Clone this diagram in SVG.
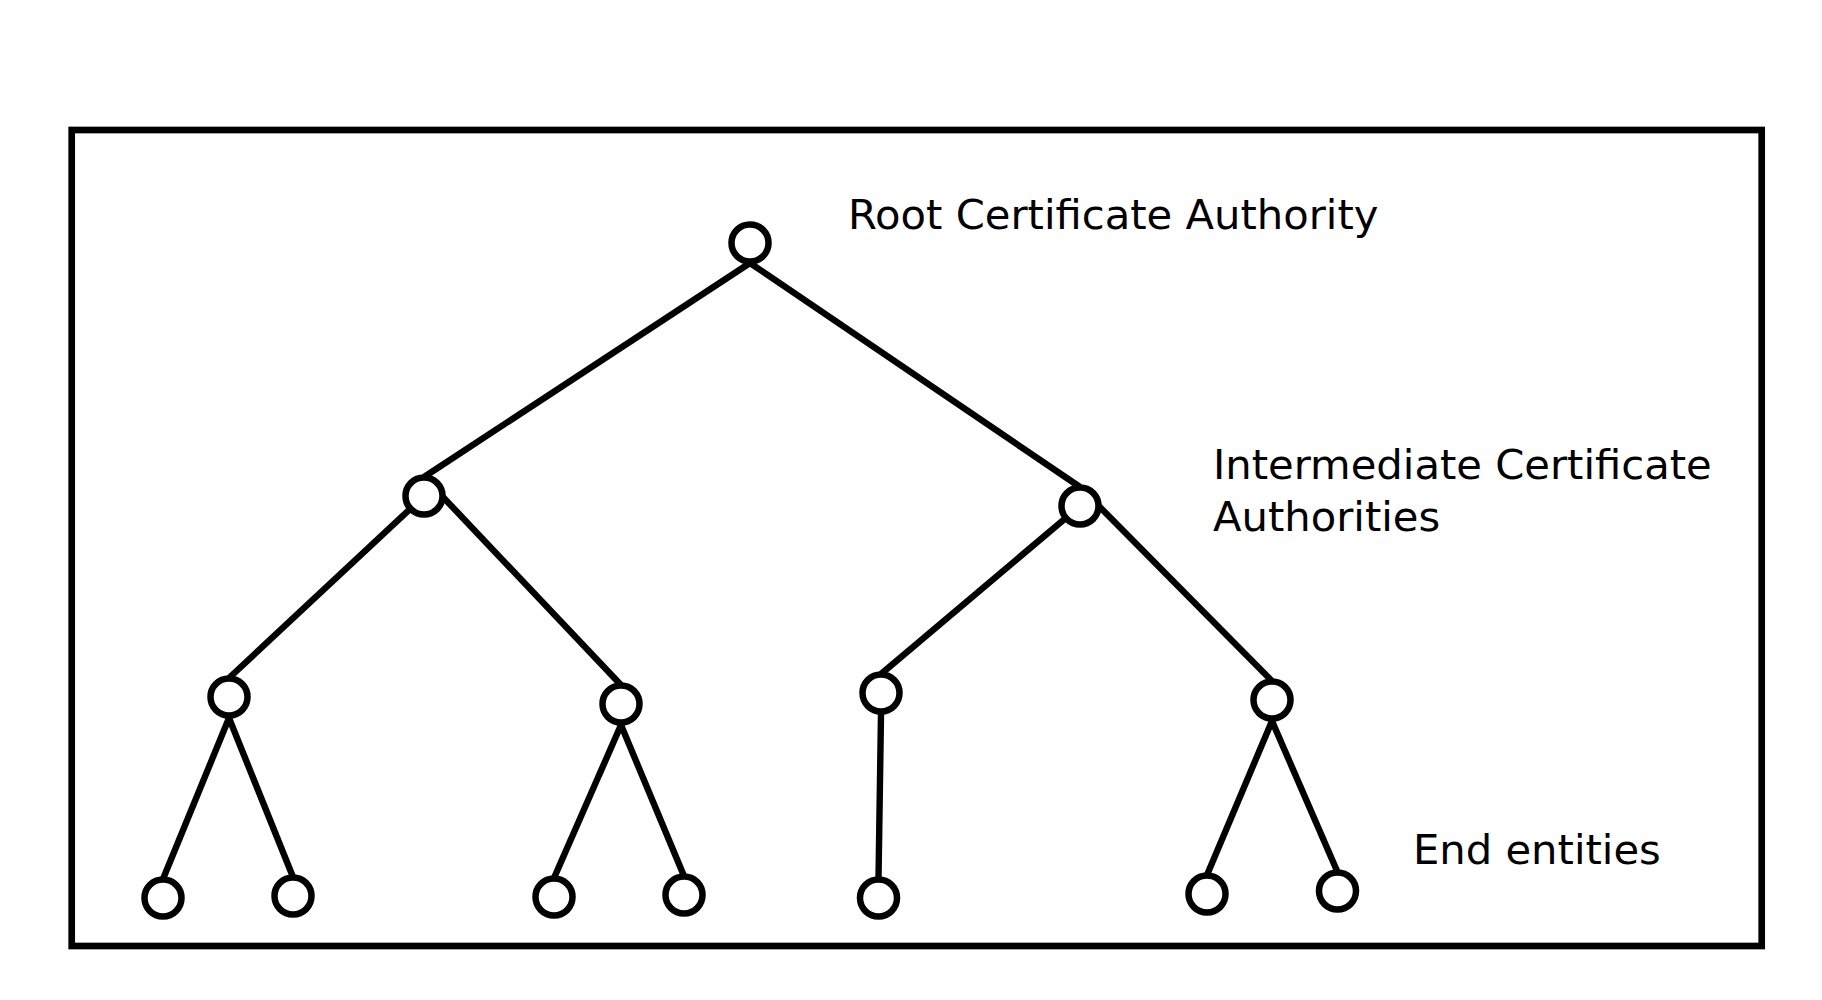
<svg xmlns="http://www.w3.org/2000/svg" width="1822" height="1000" viewBox="0 0 1822 1000">
<style>
.frame{fill:none;stroke:#000;stroke-width:6.7}
.edge{stroke:#000;stroke-width:6.4;stroke-linecap:butt;fill:none}
.node{fill:#fff;stroke:#000;stroke-width:6.5}
.lbl{font-family:"DejaVu Sans",sans-serif;font-size:41.7px;fill:#000}
</style>
<rect width="1822" height="1000" fill="#fff"/>
<rect class="frame" x="71.7" y="130" width="1690" height="816"/>
<g id="connectors">
<line class="edge" x1="750" y1="263" x2="424" y2="477"/>
<line class="edge" x1="750" y1="263" x2="1080" y2="487"/>
<line class="edge" x1="424" y1="496" x2="229" y2="678"/>
<line class="edge" x1="424" y1="477" x2="621" y2="685"/>
<line class="edge" x1="1080" y1="506" x2="881" y2="674"/>
<line class="edge" x1="1080" y1="487" x2="1272" y2="681"/>
<line class="edge" x1="229" y1="718" x2="163" y2="879"/>
<line class="edge" x1="229" y1="718" x2="293" y2="877"/>
<line class="edge" x1="621" y1="725" x2="554" y2="878"/>
<line class="edge" x1="621" y1="725" x2="684" y2="876"/>
<line class="edge" x1="881" y1="714" x2="878.5" y2="879"/>
<line class="edge" x1="1272" y1="721" x2="1207" y2="875"/>
<line class="edge" x1="1272" y1="721" x2="1337.5" y2="872"/>
</g>
<g id="root"><circle class="node" cx="750" cy="243" r="18.5"/></g>
<g id="int1"><circle class="node" cx="424" cy="496" r="18.5"/></g>
<g id="int2"><circle class="node" cx="1080" cy="506" r="18.5"/></g>
<g id="sub1"><circle class="node" cx="229" cy="697" r="18.5"/></g>
<g id="sub2"><circle class="node" cx="621" cy="704" r="18.5"/></g>
<g id="sub3"><circle class="node" cx="881" cy="693" r="18.5"/></g>
<g id="sub4"><circle class="node" cx="1272" cy="700" r="18.5"/></g>
<g id="leaf1"><circle class="node" cx="163" cy="898" r="18.5"/></g>
<g id="leaf2"><circle class="node" cx="293" cy="896" r="18.5"/></g>
<g id="leaf3"><circle class="node" cx="554" cy="897" r="18.5"/></g>
<g id="leaf4"><circle class="node" cx="684" cy="895" r="18.5"/></g>
<g id="leaf5"><circle class="node" cx="878.5" cy="898" r="18.5"/></g>
<g id="leaf6"><circle class="node" cx="1207" cy="894" r="18.5"/></g>
<g id="leaf7"><circle class="node" cx="1337.5" cy="891" r="18.5"/></g>
<g id="labels">
<text class="lbl" x="848" y="229">Root Certificate Authority</text>
<text class="lbl" x="1213" y="479">Intermediate Certificate</text>
<text class="lbl" x="1213" y="531">Authorities</text>
<text class="lbl" x="1413" y="864">End entities</text>
</g>
</svg>
